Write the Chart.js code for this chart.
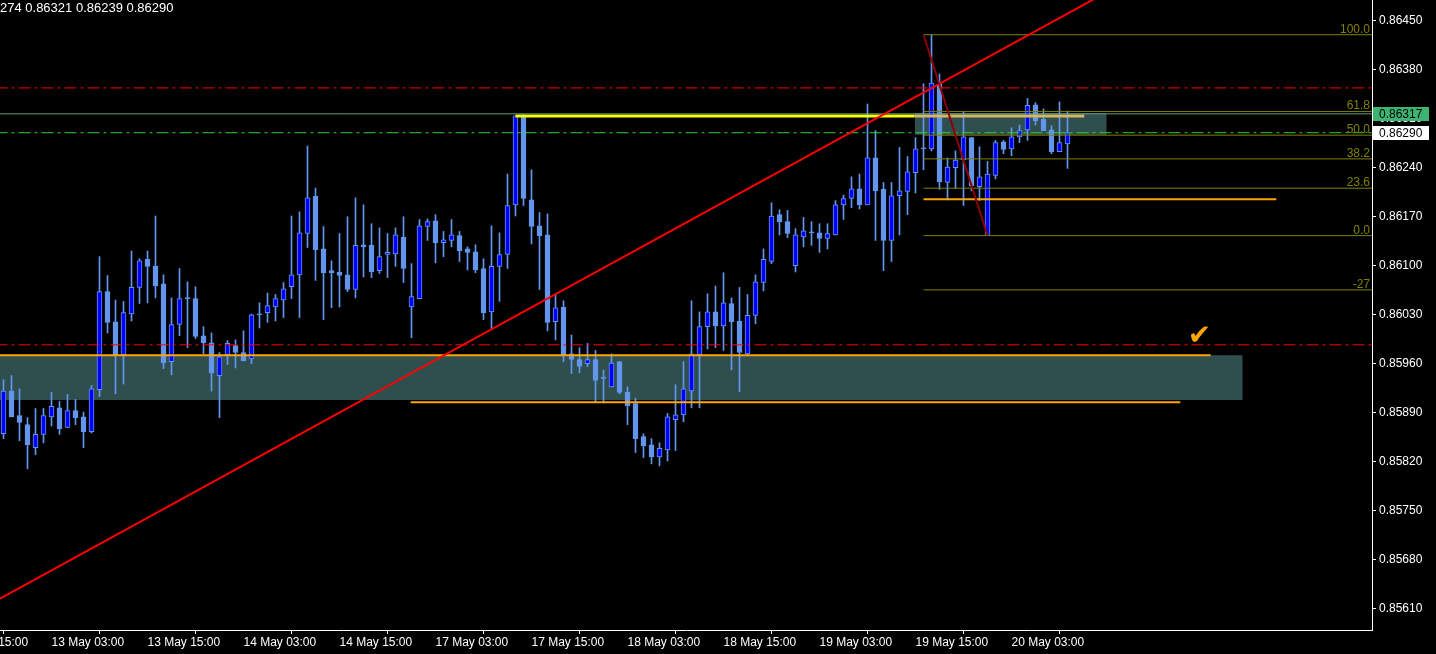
<!DOCTYPE html>
<html>
<head>
<meta charset="utf-8">
<script src="https://cdn.jsdelivr.net/npm/chart.js@4.4.1/dist/chart.umd.min.js"></script>
<style>
html, body { margin: 0; padding: 0; background: #000; }
canvas { display: block; background: #000; }
</style>
</head>
<body>
<canvas id="chart" width="1436" height="654"></canvas>
<script>
// EURGBP H1, bar index 0 = 12 May 21:00
const open = [0.85860,0.85921,0.85886,0.85873,0.85840,0.85859,0.85884,0.85897,0.85869,0.85893,
0.85884,0.85863,0.85923,0.86063,0.86020,0.85973,0.86031,0.86069,0.86109,0.86099,
0.86074,0.85963,0.86016,0.86053,0.86053,0.86000,0.85990,0.85943,0.85973,0.85986,
0.85976,0.85967,0.86030,0.86033,0.86041,0.86051,0.86070,0.86087,0.86146,0.86199,
0.86124,0.86093,0.86091,0.86087,0.86066,0.86130,0.86129,0.86093,0.86116,0.86117,
0.86141,0.86041,0.86053,0.86156,0.86164,0.86133,0.86136,0.86143,0.86124,0.86120,
0.86096,0.86034,0.86099,0.86116,0.86187,0.86314,0.86194,0.86157,0.86144,0.86020,
0.86041,0.85974,0.85966,0.85960,0.85966,0.85939,0.85927,0.85963,0.85919,0.85903,
0.85856,0.85844,0.85827,0.85837,0.85880,0.85887,0.85921,0.85973,0.86013,0.86034,
0.86014,0.86046,0.86021,0.85974,0.86029,0.86076,0.86106,0.86173,0.86163,0.86100,
0.86141,0.86147,0.86147,0.86139,0.86144,0.86187,0.86196,0.86210,0.86187,0.86254,
0.86209,0.86136,0.86200,0.86206,0.86233,0.86267,0.86267,0.86359,0.86219,0.86240,
0.86251,0.86283,0.86213,0.86143,0.86229,0.86277,0.86267,0.86284,0.86294,0.86330,
0.86309,0.86294,0.86263,0.86274];

const high = [0.85937,0.85943,0.85924,0.85883,0.85896,0.85896,0.85919,0.85906,0.85916,0.85909,
0.85891,0.85929,0.86113,0.86086,0.86051,0.86049,0.86121,0.86110,0.86121,0.86171,
0.86087,0.86054,0.86096,0.86077,0.86070,0.86013,0.86004,0.85976,0.85993,0.85994,
0.86007,0.86031,0.86047,0.86061,0.86059,0.86076,0.86171,0.86177,0.86271,0.86211,
0.86156,0.86107,0.86146,0.86170,0.86197,0.86187,0.86160,0.86154,0.86146,0.86154,
0.86170,0.86103,0.86166,0.86167,0.86173,0.86149,0.86166,0.86149,0.86127,0.86130,
0.86110,0.86157,0.86147,0.86231,0.86314,0.86316,0.86237,0.86176,0.86174,0.86060,
0.86050,0.86001,0.85983,0.85989,0.85979,0.85951,0.85974,0.85963,0.85927,0.85911,
0.85860,0.85853,0.85847,0.85889,0.85930,0.85963,0.86050,0.86034,0.86060,0.86071,
0.86090,0.86054,0.86069,0.86059,0.86087,0.86124,0.86190,0.86180,0.86179,0.86153,
0.86169,0.86163,0.86160,0.86160,0.86193,0.86201,0.86227,0.86231,0.86331,0.86293,
0.86219,0.86219,0.86269,0.86256,0.86283,0.86360,0.86430,0.86374,0.86254,0.86264,
0.86320,0.86283,0.86270,0.86249,0.86279,0.86279,0.86297,0.86301,0.86339,0.86333,
0.86324,0.86300,0.86334,0.86321];

const low = [0.85853,0.85884,0.85850,0.85810,0.85830,0.85847,0.85871,0.85859,0.85869,0.85873,
0.85840,0.85861,0.85913,0.86004,0.85917,0.85931,0.86021,0.86046,0.86047,0.86054,
0.85953,0.85944,0.86000,0.85983,0.85996,0.85974,0.85921,0.85883,0.85959,0.85954,
0.85964,0.85960,0.86011,0.86019,0.86021,0.86026,0.86053,0.86026,0.86126,0.86079,
0.86023,0.86040,0.86041,0.86063,0.86054,0.86084,0.86083,0.86089,0.86083,0.86099,
0.86076,0.85997,0.86053,0.86136,0.86104,0.86113,0.86127,0.86106,0.86094,0.86090,
0.86023,0.86009,0.86049,0.86096,0.86171,0.86186,0.86131,0.86066,0.86007,0.85994,
0.85963,0.85946,0.85947,0.85956,0.85906,0.85904,0.85927,0.85917,0.85873,0.85833,
0.85826,0.85817,0.85814,0.85821,0.85836,0.85877,0.85897,0.85897,0.85981,0.85983,
0.85979,0.85951,0.85920,0.85971,0.86017,0.86064,0.86103,0.86144,0.86140,0.86091,
0.86127,0.86129,0.86119,0.86124,0.86144,0.86166,0.86183,0.86181,0.86187,0.86136,
0.86093,0.86106,0.86144,0.86173,0.86204,0.86237,0.86264,0.86209,0.86194,0.86210,
0.86186,0.86207,0.86193,0.86143,0.86224,0.86260,0.86257,0.86276,0.86279,0.86301,
0.86293,0.86260,0.86263,0.86239];

const close = [0.85921,0.85884,0.85876,0.85844,0.85859,0.85886,0.85899,0.85867,0.85893,0.85883,
0.85863,0.85924,0.86063,0.86019,0.85973,0.86033,0.86069,0.86107,0.86099,0.86071,
0.85961,0.86016,0.86053,0.86053,0.85999,0.85990,0.85947,0.85970,0.85989,0.85976,
0.85964,0.86030,0.86030,0.86043,0.86053,0.86067,0.86087,0.86147,0.86197,0.86123,
0.86090,0.86090,0.86086,0.86066,0.86129,0.86127,0.86091,0.86113,0.86119,0.86144,
0.86096,0.86056,0.86157,0.86163,0.86133,0.86137,0.86144,0.86121,0.86119,0.86094,
0.86033,0.86099,0.86116,0.86186,0.86314,0.86196,0.86156,0.86143,0.86019,0.86040,
0.85973,0.85966,0.85956,0.85966,0.85936,0.85939,0.85961,0.85919,0.85900,0.85853,
0.85843,0.85827,0.85839,0.85884,0.85887,0.85924,0.85974,0.86013,0.86034,0.86014,
0.86047,0.86020,0.85976,0.86029,0.86077,0.86109,0.86171,0.86163,0.86146,0.86144,
0.86150,0.86147,0.86139,0.86146,0.86187,0.86196,0.86210,0.86187,0.86254,0.86207,
0.86136,0.86200,0.86207,0.86234,0.86267,0.86267,0.86361,0.86220,0.86241,0.86251,
0.86284,0.86214,0.86227,0.86231,0.86276,0.86266,0.86284,0.86293,0.86329,0.86307,
0.86293,0.86263,0.86276,0.86290];

// axes
const xTickIdx = [-6, 6, 18, 30, 42, 54, 66, 78, 90, 102, 114, 126];
const xTickLabels = ["12 May 15:00", "13 May 03:00", "13 May 15:00", "14 May 03:00", "14 May 15:00",
    "17 May 03:00", "17 May 15:00", "18 May 03:00", "18 May 15:00", "19 May 03:00", "19 May 15:00", "20 May 03:00"];
const yTickValues = [0.86450, 0.86380, 0.86310, 0.86240, 0.86170, 0.86100, 0.86030,
    0.85960, 0.85890, 0.85820, 0.85750, 0.85680, 0.85610];
const viewStart = -0.4375, viewEnd = 171.0625;
const priceMin = 0.855796, priceMax = 0.864796;

const headerText = "274 0.86321 0.86239 0.86290";
const askPrice = 0.86317;
const bidPrice = 0.86290;

// objects drawn on the chart (bar index, price)
const trendFrom = [-1, 0.85621];
const trendTo = [140, 0.86504];

const fibFrom = [115, 0.86430];
const fibTo = [123, 0.86143];
const fibLevels = [100, 61.8, 50, 38.2, 23.6, 0, -27];
const fibText = ["100.0", "61.8", "50.0", "38.2", "23.6", "0.0", "-27"];

const dashRedPrices = [0.86354, 0.85987];
const dashGreenPrices = [0.86290];

const orangeStart = [-1, 50.9, 115];
const orangeEnd = [150.9, 147.1, 159.1];
const orangePrice = [0.85972, 0.85905, 0.86195];

const yellowStart = 64, yellowEnd = 113.9, yellowPrice = 0.86314;
const tanEnd = 135.1;

const zoneStart = [-1, 113.9];
const zoneEnd = [154.9, 137.9];
const zoneTop = [0.85972, 0.86318];
const zoneBottom = [0.85908, 0.86287];

const checkAt = [149.5, 0.85998];

const FONT = "'Liberation Sans', Arial, sans-serif";
const DASHDOT = [12, 4, 3, 4];

const candleIdx = open.map((_, i) => i);

function hLine(x0, x1, price, color, width, dash) {
    return {
        type: "line",
        data: [{ x: x0, y: price }, { x: x1, y: price }],
        borderColor: color,
        borderWidth: width,
        borderDash: dash || [],
        pointRadius: 0,
        fill: false,
        order: 2
    };
}

const datasets = [];

// zones (background)
for (let i = 0; i < zoneStart.length; i++) {
    datasets.push({
        type: "line",
        data: [{ x: zoneStart[i], y: zoneTop[i] }, { x: zoneEnd[i], y: zoneTop[i] }],
        borderWidth: 0,
        pointRadius: 0,
        backgroundColor: "#2f4f4f",
        fill: { value: zoneBottom[i] },
        order: 30
    });
}

// candles: wick then body
datasets.push({
    type: "bar",
    data: candleIdx.map(i => ({ x: i, y: [low[i], high[i]] })),
    backgroundColor: "#6495ed",
    barThickness: 1,
    grouped: false,
    order: 21
});
datasets.push({
    type: "bar",
    data: candleIdx.map(i => ({ x: i, y: [open[i], close[i]] })),
    backgroundColor: candleIdx.map(i => close[i] > open[i] ? "#0000ff" : "#6495ed"),
    borderColor: "#6495ed",
    borderWidth: 1,
    borderSkipped: false,
    barThickness: 5,
    minBarLength: 1,
    grouped: false,
    order: 20
});

// horizontal lines
datasets.push(hLine(-1, 180, askPrice, "#5f9f7c", 1));
dashRedPrices.forEach(p => datasets.push(hLine(-1, 180, p, "#ff0000", 1, DASHDOT)));
dashGreenPrices.forEach(p => datasets.push(hLine(-1, 180, p, "#32cd32", 1, DASHDOT)));

// fibonacci
const fibPrice = lvl => fibTo[1] + (fibFrom[1] - fibTo[1]) * lvl / 100;
fibLevels.forEach(lvl => datasets.push(hLine(fibFrom[0], 180, fibPrice(lvl), "#808000", 1)));

orangeStart.forEach((s, i) => datasets.push(hLine(s, orangeEnd[i], orangePrice[i], "#ffa500", 2)));
datasets.push(hLine(yellowStart, yellowEnd, yellowPrice, "#ffff00", 3));
datasets.push(hLine(yellowEnd, tanEnd, yellowPrice, "#d9b560", 3));

datasets.push({
    type: "line",
    data: [{ x: fibFrom[0], y: fibFrom[1] }, { x: fibTo[0], y: fibTo[1] }],
    borderColor: "#8b0000",
    borderWidth: 2,
    pointRadius: 0,
    fill: false,
    order: 1
});
datasets.push({
    type: "line",
    data: [{ x: trendFrom[0], y: trendFrom[1] }, { x: trendTo[0], y: trendTo[1] }],
    borderColor: "#ff0000",
    borderWidth: 2,
    pointRadius: 0,
    fill: false,
    order: 1
});

const overlayText = {
    id: "overlayText",
    afterDatasetsDraw(chart) {
        const ctx = chart.ctx;
        const area = chart.chartArea;
        const xs = chart.scales.x, ys = chart.scales.y;
        ctx.save();

        ctx.font = "12px " + FONT;
        ctx.fillStyle = "#808000";
        ctx.textAlign = "right";
        ctx.textBaseline = "alphabetic";
        fibLevels.forEach((lvl, i) => {
            ctx.fillText(fibText[i], area.right - 2, ys.getPixelForValue(fibPrice(lvl)) - 2);
        });

        ctx.fillStyle = "#ffa500";
        ctx.font = "bold 28px 'DejaVu Sans'";
        ctx.textAlign = "center";
        ctx.textBaseline = "middle";
        ctx.fillText("\u2714", xs.getPixelForValue(checkAt[0]), ys.getPixelForValue(checkAt[1]));

        ctx.fillStyle = "#ffffff";
        ctx.font = "13px " + FONT;
        ctx.textAlign = "left";
        ctx.fillText(headerText, 0, 8.5);
        ctx.restore();
    },
    afterDraw(chart) {
        const ctx = chart.ctx;
        const area = chart.chartArea;
        const ys = chart.scales.y;
        ctx.save();
        ctx.font = "12px " + FONT;
        ctx.textBaseline = "middle";
        ctx.textAlign = "left";
        [[askPrice, "#3cb371"], [bidPrice, "#ffffff"]].forEach(([p, bg]) => {
            const py = Math.round(ys.getPixelForValue(p));
            ctx.fillStyle = bg;
            ctx.fillRect(area.right + 1, py - 7, 56, 14);
            ctx.fillStyle = "#000000";
            ctx.fillText(p.toFixed(5), area.right + 7, py + 0.5);
        });
        ctx.restore();
    }
};

new Chart(document.getElementById("chart"), {
    type: "bar",
    data: { datasets: datasets },
    options: {
        responsive: false,
        animation: false,
        devicePixelRatio: 1,
        events: [],
        layout: { padding: 0 },
        plugins: {
            legend: { display: false },
            tooltip: { enabled: false }
        },
        scales: {
            x: {
                type: "linear",
                min: viewStart,
                max: viewEnd,
                bounds: "data",
                offset: false,
                afterBuildTicks: s => { s.ticks = xTickIdx.map(v => ({ value: v })); },
                afterFit: s => { s.height = 24; s.paddingLeft = 0; s.paddingRight = 0; },
                grid: { drawOnChartArea: false, drawTicks: true, tickLength: 4, tickColor: "#ffffff", color: "#ffffff" },
                border: { display: true, color: "#ffffff", width: 1 },
                ticks: {
                    autoSkip: false,
                    maxRotation: 0,
                    align: "start",
                    padding: 1,
                    color: "#ffffff",
                    font: { family: FONT, size: 12 },
                    callback: (v, i) => xTickLabels[i]
                }
            },
            y: {
                type: "linear",
                position: "right",
                min: priceMin,
                max: priceMax,
                bounds: "data",
                afterBuildTicks: s => { s.ticks = yTickValues.map(v => ({ value: v })); },
                afterFit: s => { s.width = 64; s.paddingTop = 0; s.paddingBottom = 0; },
                grid: { drawOnChartArea: false, drawTicks: true, tickLength: 4, tickColor: "#ffffff", color: "#ffffff" },
                border: { display: true, color: "#ffffff", width: 1 },
                ticks: {
                    autoSkip: false,
                    padding: 3,
                    color: "#ffffff",
                    font: { family: FONT, size: 12 },
                    callback: v => v.toFixed(5)
                }
            }
        }
    },
    plugins: [overlayText]
});
</script>
</body>
</html>
